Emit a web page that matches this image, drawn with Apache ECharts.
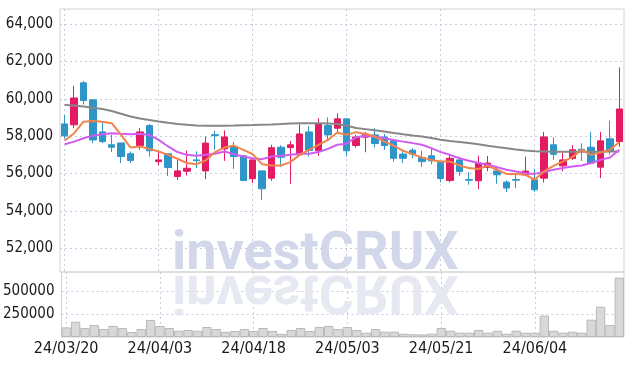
<!DOCTYPE html>
<html><head><meta charset="utf-8">
<script src="https://cdn.jsdelivr.net/npm/echarts@6/dist/echarts.min.js"></script>
<style>html,body{margin:0;padding:0;background:#fff}#c{width:634px;height:366px}</style>
</head><body><div id="c"></div>
<script>
const dates = ['24/03/20','24/03/21','24/03/22','24/03/25','24/03/26','24/03/27','24/03/28','24/03/29','24/04/01','24/04/02',
'24/04/03','24/04/04','24/04/05','24/04/08','24/04/09','24/04/11','24/04/12','24/04/15','24/04/16','24/04/17',
'24/04/18','24/04/19','24/04/22','24/04/23','24/04/24','24/04/25','24/04/26','24/04/29','24/04/30','24/05/02',
'24/05/03','24/05/07','24/05/08','24/05/09','24/05/10','24/05/13','24/05/14','24/05/16','24/05/17','24/05/20',
'24/05/21','24/05/22','24/05/23','24/05/24','24/05/27','24/05/28','24/05/29','24/05/30','24/05/31','24/06/03',
'24/06/04','24/06/05','24/06/07','24/06/10','24/06/11','24/06/12','24/06/13','24/06/14','24/06/17','24/06/18'];
const opens  = [58660,58610,60860,59950,58230,57540,57640,57060,57500,58570,56640,57060,55840,56120,56730,56140,58080,57320,57450,56950,55720,56140,55750,57410,57390,57000,58230,57220,58570,58430,58930,57500,57950,58070,57960,57750,57040,57250,56860,56950,56590,55630,56730,55680,55610,56330,56140,55540,55680,55930,55660,55750,57540,56410,56810,57300,57410,56340,57860,57710];
const closes = [58020,60050,59910,57800,57710,57410,56910,56700,58230,57220,56730,56320,56140,56280,56690,57630,58030,57960,56910,55630,56730,55180,57380,56870,57540,58120,57240,58650,58070,58930,57220,57960,58120,57610,57500,56820,56820,57040,56640,56680,55730,56820,56110,55640,56560,56560,55930,55220,55640,56130,55130,57960,57030,56730,57270,57230,56560,57750,57180,59460];
const lows   = [57860,58430,59700,57630,57630,57150,56560,56560,57270,56910,56440,55860,55660,55900,56300,55700,57270,56680,56250,55600,55490,54590,55610,56360,55450,56950,56910,56950,57800,58180,56910,57390,57140,57400,57270,56640,56560,56820,56360,56500,55530,55530,55880,55400,55160,56120,55450,55000,55220,55880,55020,55520,56730,56120,56730,56680,56500,55750,57000,57430];
const highs  = [59140,60710,60960,59950,58780,58070,57640,57180,58430,58650,57190,57060,56730,57220,57190,57980,58290,58310,57700,56970,56750,56140,57540,57520,57750,58630,58540,58960,59010,59230,58930,58070,58230,58430,58120,57800,57270,57360,57220,57380,56590,57000,56910,56060,56960,56940,56410,55630,55980,56910,56260,58230,57940,57120,57520,57620,58230,58230,58840,61690];
const volumes = [104000,166000,98000,130000,87000,120000,98000,54000,87000,185000,120000,98000,68000,76000,68000,109000,87000,56000,65000,87000,65000,98000,65000,34000,76000,98000,65000,109000,120000,87000,109000,76000,47000,87000,58000,58000,36000,30000,28000,36000,98000,68000,47000,47000,76000,47000,68000,36000,68000,47000,47000,232000,68000,47000,58000,47000,188000,329000,130000,645000];
const maShort = [57770,58160,58780,58820,58780,58700,58070,57390,57450,57320,57180,57000,56790,56560,56500,56700,57150,57390,57500,57270,57040,56500,56430,56430,56610,57000,57270,57540,57800,58200,58070,58220,58120,57980,57710,57500,57220,57040,56860,56730,56640,56640,56430,56290,56240,56410,56200,55980,55980,55930,55680,56110,56410,56640,56880,57270,57000,57120,57270,57680];
const maMid = [57570,57710,57890,58030,58110,58160,58130,58110,58130,58070,57800,57450,57150,57000,56950,57000,57060,57180,57040,56910,56820,56770,56910,56950,57000,57060,57060,57150,57320,57540,57600,57950,58020,57980,57890,57800,57710,57630,57540,57360,57150,57000,56820,56680,56560,56470,56340,56200,56110,56020,55980,56080,56200,56290,56380,56430,56560,56730,56860,57270];
const maLong = [59680,59640,59590,59530,59460,59350,59200,59060,58950,58870,58790,58720,58660,58610,58580,58560,58560,58560,58570,58590,58600,58620,58630,58650,58680,58700,58700,58700,58680,58650,58560,58440,58380,58320,58250,58170,58100,58040,57990,57900,57810,57740,57690,57640,57570,57490,57420,57360,57290,57230,57190,57180,57170,57170,57170,57170,57170,57170,57180,57180];
const priceTicks = [52000,54000,56000,58000,60000,62000,64000];
const volumeTicks = [250000,500000];

const FONT = "'Liberation Sans Narrow','DejaVu Sans Condensed','Roboto Condensed',sans-serif";
const gridLine = {show:true, lineStyle:{color:'#c9cbe0', type:[2,3], width:1}};
const candleData = dates.map((d,i)=>[opens[i],closes[i],lows[i],highs[i]]);

const chart = echarts.init(document.getElementById('c'), null, {renderer:'canvas'});
chart.setOption({
  animation:false,
  backgroundColor:'#fff',
  grid:[
    {left:60,right:10,top:9,bottom:94,show:true,borderColor:'#d2d2d2',borderWidth:1,backgroundColor:'transparent'},
    {left:60,right:10,top:272,bottom:29,show:true,borderColor:'#d2d2d2',borderWidth:1,backgroundColor:'transparent'}
  ],
  xAxis:[
    {type:'category',gridIndex:0,data:dates,boundaryGap:true,axisLine:{show:false},axisTick:{show:false},
     axisLabel:{show:false},splitLine:Object.assign({interval:9,alignWithLabel:true},gridLine)},
    {type:'category',gridIndex:1,data:dates,boundaryGap:true,axisLine:{show:false},axisTick:{show:false},
     axisLabel:{show:true,interval:9,fontSize:16,color:'#1a1a1a',fontFamily:FONT,margin:4},
     splitLine:Object.assign({interval:9,alignWithLabel:true},gridLine)}
  ],
  yAxis:[
    {type:'value',gridIndex:0,min:50720,max:64820,axisLine:{show:false},
     axisTick:{show:false,customValues:priceTicks},
     axisLabel:{customValues:priceTicks,formatter:v=>Number(v).toLocaleString('en-US'),fontSize:15,color:'#1a1a1a',fontFamily:FONT,margin:7},
     splitLine:gridLine},
    {type:'value',gridIndex:1,min:0,max:706000,axisLine:{show:false},
     axisTick:{show:false,customValues:volumeTicks},
     axisLabel:{customValues:volumeTicks,formatter:v=>String(v),fontSize:15,color:'#1a1a1a',fontFamily:FONT,margin:7},
     splitLine:gridLine}
  ],
  graphic:[
    {type:'text',x:172,y:255,z:1,style:{text:'investCRUX',fontSize:54,fontWeight:'bold',fontFamily:'Roboto',fill:'#d2d8ea',verticalAlign:'middle'}},
    {type:'text',x:172,y:289,scaleY:-1,z:1,style:{text:'investCRUX',fontSize:54,fontWeight:'bold',fontFamily:'Roboto',fill:'#e6e8f2',verticalAlign:'middle'}}
  ],
  series:[
    {type:'candlestick',xAxisIndex:0,yAxisIndex:0,data:candleData,barWidth:7,z:3,
     itemStyle:{color:'#e31b63',color0:'#2e95c8',borderColor:'#e31b63',borderColor0:'#2e95c8',borderWidth:1}},
    {type:'line',xAxisIndex:0,yAxisIndex:0,data:maLong,showSymbol:false,z:4,lineStyle:{color:'#878787',width:2}},
    {type:'line',xAxisIndex:0,yAxisIndex:0,data:maMid,showSymbol:false,z:4,lineStyle:{color:'#d05cf0',width:2}},
    {type:'line',xAxisIndex:0,yAxisIndex:0,data:maShort,showSymbol:false,z:4,lineStyle:{color:'#f0844a',width:2}},
    {type:'bar',xAxisIndex:1,yAxisIndex:1,data:volumes,barCategoryGap:'0%',z:3,
     itemStyle:{color:'#d8d8d8',borderColor:'#b9b9b9',borderWidth:1}}
  ]
});
</script></body></html>
